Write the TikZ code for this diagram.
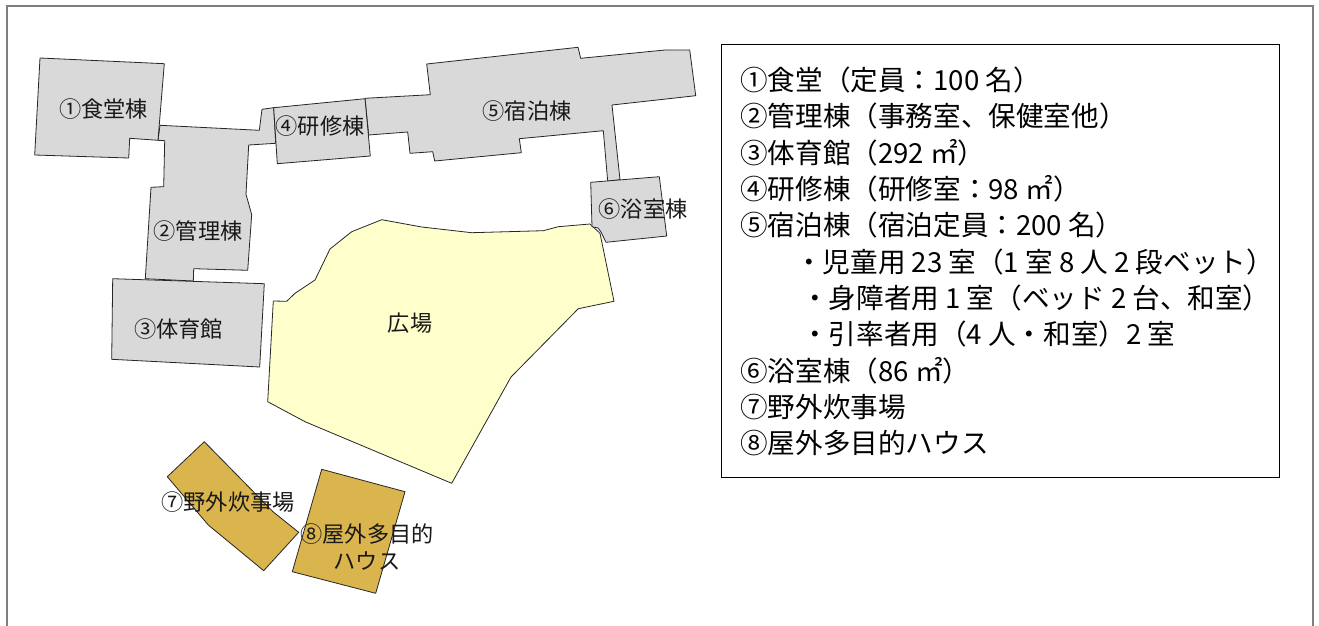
\documentclass[tikz,border=0pt]{standalone}
\usepackage{fontspec}
\setmainfont{Noto Sans CJK JP}
\tikzset{
  bldg/.style={draw=black!85,line width=0.8pt,line join=round,fill=#1},
  lbl/.style={font=\fontsize{22.2}{27}\selectfont,inner sep=0pt,text=black!90,align=center},
  leg/.style={font=\fontsize{27.6}{30}\selectfont,inner sep=0pt,anchor=base west,text=black},
}
\definecolor{bgray}{HTML}{D9D9D9}
\definecolor{byel}{HTML}{FFFFCC}
\definecolor{bgold}{HTML}{DAB44C}
\definecolor{frm}{HTML}{7F7F7F}
\begin{document}
\begin{tikzpicture}[x=1pt,y=-1pt]
\useasboundingbox (0,0) rectangle (1319,626);
\fill[white] (0,0) rectangle (1319,626);
\draw[frm,line width=2pt] (7,627) -- (7,6) -- (1312.5,6) -- (1312.5,627);
% plaza
\draw[bldg=byel] (381.7,219.7) -- (421.7,227) -- (471.7,232.7) -- (543.3,230.7) -- (558.3,226.7) -- (590,224) -- (600,233.3) -- (614,301.3) -- (578.3,308.7) -- (511,377) -- (451.7,483.3) -- (305,421.7) -- (267.7,401.7) -- (273.3,301) -- (286.7,301.3) -- (295,293.3) -- (315,280) -- (330,249) -- (351.7,231.7) -- cycle;
% buildings
\draw[bldg=bgray] (160,125.3) -- (259.3,130.3) -- (262,109.3) -- (273.7,107.7) -- (275.7,143.3) -- (248.7,145) -- (246,194.3) -- (251.7,214.7) -- (247.7,270.3) -- (193.7,268.7) -- (193.3,281) -- (145.3,278.7) -- (151,187.3) -- (163.7,186.7) -- (164.7,140.7) -- (158,140.3) -- cycle;
\draw[bldg=bgray] (40,58) -- (164.3,63.7) -- (158,140.3) -- (129.7,138.3) -- (128.7,158) -- (34.7,155) -- cycle;
\draw[bldg=bgray] (112.7,278.7) -- (264.3,283.7) -- (259.7,367) -- (111.7,359.3) -- cycle;
\draw[bldg=bgray] (365,98.3) -- (430.3,94.7) -- (426.7,64) -- (578,47.3) -- (580.7,58.3) -- (665,50) -- (689.7,50) -- (695.7,95.7) -- (612,105) -- (620,179.7) -- (607.7,181.3) -- (603.3,130.7) -- (519.3,138.7) -- (521.3,152.7) -- (434.7,161) -- (432.7,151.7) -- (410,153.3) -- (407.7,132) -- (368.7,135) -- cycle;
\draw[bldg=bgray] (273.7,107.7) -- (365,98.7) -- (370.3,156) -- (277.3,163.7) -- cycle;
\draw[bldg=bgray] (590.7,182.3) -- (659.3,176.7) -- (666.7,236) -- (606,242.3) -- (601,232) -- (598,228) -- (592,226.7) -- cycle;
\draw[bldg=bgold] (204.3,441.7) -- (273.3,512) -- (298.7,532.3) -- (263.7,570.7) -- (208.3,525) -- (167.3,476.7) -- cycle;
\draw[bldg=bgold] (321.7,469.3) -- (405,491.7) -- (375.7,593.3) -- (292.3,571.7) -- cycle;
% map labels
\node[lbl] (l1) at (103.5,109) {①食堂棟};
\node[lbl] (l2) at (198,231) {②管理棟};
\node[lbl] (l3) at (178.5,329) {③体育館};
\node[lbl] (l4) at (320,126) {④研修棟};
\node[lbl] (l5) at (527,111) {⑤宿泊棟};
\node[lbl] (l6) at (643,209) {⑥浴室棟};
\node[lbl] (l9) at (410,323) {広場};
\node[lbl] (l7) at (228,502) {⑦野外炊事場};
\node[lbl] (l8) at (367,547) {⑧屋外多目的\\ハウス};
% legend
\node[draw=black,line width=1pt,minimum width=558pt,minimum height=433pt,anchor=north west,inner sep=0pt] (legend) at (720.5,44) {};
\node[leg] (t1) at (740,90) {①食堂（定員：100 名）};
\node[leg] (t2) at (740,126.5) {②管理棟（事務室、保健室他）};
\node[leg] (t3) at (740,163) {③体育館（292 ㎡）};
\node[leg] (t4) at (740,199.5) {④研修棟（研修室：98 ㎡）};
\node[leg] (t5) at (740,235.5) {⑤宿泊棟（宿泊定員：200 名）};
\node[leg] (t6) at (795,272) {・児童用 23 室（1 室 8 人 2 段ベット）};
\node[leg] (t7) at (801,308) {・身障者用 1 室（ベッド 2 台、和室）};
\node[leg] (t8) at (801,344.5) {・引率者用（4 人・和室）2 室};
\node[leg] (t9) at (740,381) {⑥浴室棟（86 ㎡）};
\node[leg] (t10) at (740,417) {⑦野外炊事場};
\node[leg] (t11) at (740,453.5) {⑧屋外多目的ハウス};
\end{tikzpicture}
\end{document}
